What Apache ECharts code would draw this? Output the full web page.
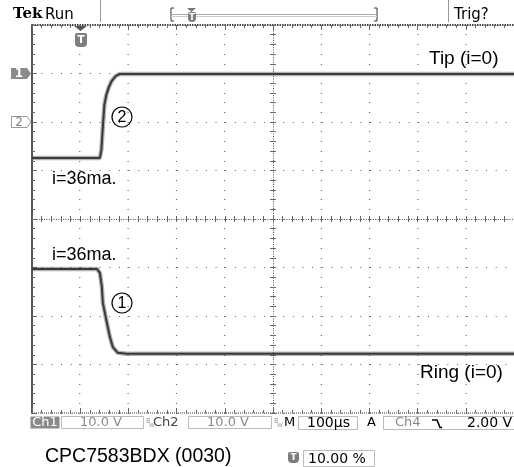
<!DOCTYPE html>
<html>
<head>
<meta charset="utf-8">
<script src="https://cdn.jsdelivr.net/npm/echarts@6/dist/echarts.min.js"></script>
<style>
  html, body { margin: 0; padding: 0; background: #fff; }
  #scope { width: 514px; height: 467px; }
</style>
</head>
<body>
<div id="scope"></div>
<script>
// Time in microseconds relative to the trigger point (100 µs/div, trigger at 10 %).
// Vertical values in screen divisions from the graticule centre.
const tipTime  = [-100, 40.8, 43.9, 47.0, 50.1, 54.2, 59.4, 65.6, 73.9, 82.2, 900];
const tipDiv   = [1.26, 1.26, 1.42, 1.90, 2.35, 2.56, 2.72, 2.85, 2.95, 2.99, 2.99];
const ringTime = [-100, 34.6, 40.8, 44.9, 47.0, 55.3, 61.5, 67.7, 78.0, 96.7, 900];
const ringDiv  = [-1.03, -1.03, -1.11, -1.40, -1.73, -2.14, -2.43, -2.64, -2.76, -2.78, -2.78];

// Horizontal span (µs) and the dotted vertical graticule rules inside it
const timeMin = -100, timeMax = 900;
const timeDivs = [0, 100, 200, 300, 500, 600, 700, 800];

// Readout texts
const traceLabels  = ['Tip (i=0)', 'Ring (i=0)'];
const currentLabel = 'i=36ma.';
const chScale      = ['10.0 V', '10.0 V'];
const timeBase     = '100µs';
const trigSource   = 'Ch4';
const trigLevel    = '2.00 V';
const trigPos      = '10.00 %';
const partLabel    = 'CPC7583BDX (0030)';

const pair = (xs, ys) => xs.map((x, i) => [x, ys[i]]);

const GRID = { left: 32, top: 25, width: 483, height: 388 };
const sans = '"Liberation Sans", Arial, sans-serif';
const dv = '"DejaVu Sans", sans-serif';

function txt(x, y, s, font, fill, align, vAlign) {
  return { type: 'text', x: x, y: y, silent: true, z: 100,
    style: { text: s, font: font, fill: fill || '#000',
             textAlign: align || 'left', textVerticalAlign: vAlign || 'middle' } };
}
function line(x1, y1, x2, y2, color, w) {
  return { type: 'line', silent: true, z: 100, shape: { x1, y1, x2, y2 },
           style: { stroke: color, lineWidth: w || 1 } };
}
function box(x, y, w, h, stroke, fill) {
  return { type: 'rect', silent: true, z: 99, shape: { x, y, width: w, height: h },
           style: { stroke: stroke || 'none', fill: fill || 'none', lineWidth: 1 } };
}
function tIcon(x, y, w, h) {
  return [
    { type: 'rect', silent: true, z: 100, shape: { x, y, width: w, height: h, r: [2, 2, 4, 4] },
      style: { fill: '#7d7d7d' } },
    txt(x + w / 2, y + h / 2 + 0.5, 'T', 'bold ' + Math.round(h * 0.8) + 'px ' + dv, '#fff', 'center')
  ];
}

const tickStyle = { color: '#676767', width: 1, cap: 'butt' };
const dotLine = (color, width, dash) => ({ color: color, width: width, type: dash, cap: 'butt' });
const noSplit = { splitLine: { show: false }, minorSplitLine: { show: false }, splitArea: { show: false } };

const borderAxis = (extra) => Object.assign({
  type: 'value', axisLabel: { show: false },
  axisTick: { show: true, inside: true, length: 5, lineStyle: tickStyle },
  minorTick: { show: true, splitNumber: 5, length: 3, lineStyle: tickStyle }
}, noSplit, extra);

const centreAxis = (extra, inside) => Object.assign({
  type: 'value', axisLabel: { show: false },
  axisTick: { show: true, inside: inside, length: 3, lineStyle: tickStyle },
  minorTick: { show: true, splitNumber: 5, length: 3, lineStyle: tickStyle }
}, noSplit, extra);

// Dotted vertical rules: a bare vertical axis shifted onto each division,
// whose 1px ticks every 0.2 div form the dots.
const dotRuleAxis = (t) => Object.assign({
  type: 'value', position: 'left', min: -4, max: 4, interval: 1,
  offset: -((t - timeMin) / (timeMax - timeMin)) * GRID.width,
  axisLine: { show: false, onZero: false }, axisLabel: { show: false },
  axisTick: { show: true, length: 1, lineStyle: { color: '#4a4a4a', width: 1 } },
  minorTick: { show: true, splitNumber: 5, length: 1, lineStyle: { color: '#4a4a4a', width: 1 } }
}, noSplit);

const graphics = [
  // top status bar
  txt(13, 14, 'Tek', 'bold 15px "DejaVu Serif", serif', '#000'),
  txt(45, 15, 'Run', '15px ' + dv, '#000'),
  line(100.5, 0, 100.5, 22, '#999', 1),
  line(448.5, 0, 448.5, 22, '#999', 1),
  txt(454, 15, 'Trig?', '15px ' + dv, '#000'),
  // record position bar
  { type: 'polyline', silent: true, z: 100, shape: { points: [[174, 8], [171, 8], [171, 21], [174, 21]] },
    style: { stroke: '#333', lineWidth: 1, fill: null } },
  { type: 'polyline', silent: true, z: 100, shape: { points: [[374, 8], [377, 8], [377, 21], [374, 21]] },
    style: { stroke: '#333', lineWidth: 1, fill: null } },
  line(171, 14.5, 377, 14.5, '#aaa', 1),
  line(171, 16.5, 377, 16.5, '#ccc', 1),
  { type: 'polygon', silent: true, z: 101, shape: { points: [[187, 8], [196, 8], [191.5, 12]] },
    style: { fill: '#777' } },
  ...tIcon(188, 12, 8, 10),
  // trigger position marker above the graticule
  { type: 'polygon', silent: true, z: 101, shape: { points: [[74, 26], [87, 26], [80.5, 31]] },
    style: { fill: '#555' } },
  ...tIcon(75, 33, 12, 14),
  // channel ground markers
  { type: 'polygon', silent: true, z: 100,
    shape: { points: [[11, 68], [27, 68], [31, 73.5], [27, 79], [11, 79]] }, style: { fill: '#8a8a8a' } },
  txt(19, 74, '1', 'bold 12px ' + dv, '#fff', 'center'),
  { type: 'polygon', silent: true, z: 100,
    shape: { points: [[11.5, 116.5], [27, 116.5], [31, 122], [27, 127.5], [11.5, 127.5]] },
    style: { fill: '#fff', stroke: '#999', lineWidth: 1 } },
  txt(19, 122.5, '2', '12px ' + dv, '#888', 'center'),
  // trace annotations
  txt(429, 59, traceLabels[0], '19px ' + sans, '#000'),
  txt(420, 373, traceLabels[1], '19px ' + sans, '#000'),
  txt(52, 179, currentLabel, '18px ' + sans, '#000'),
  txt(52, 255, currentLabel, '18px ' + sans, '#000'),
  { type: 'circle', silent: true, z: 100, shape: { cx: 122, cy: 117, r: 10 },
    style: { fill: 'none', stroke: '#000', lineWidth: 1.2 } },
  txt(122, 118, '2', '16px ' + sans, '#000', 'center'),
  { type: 'circle', silent: true, z: 100, shape: { cx: 122, cy: 303, r: 10 },
    style: { fill: 'none', stroke: '#000', lineWidth: 1.2 } },
  txt(122, 304, '1', '16px ' + sans, '#000', 'center'),
  // bottom readout bar
  box(30.5, 416.5, 29, 12, null, '#8a8a8a'),
  txt(45, 423, 'Ch1', '13px ' + dv, '#fff', 'center'),
  box(61.5, 416.5, 82, 12, '#bbb'),
  txt(80, 423, chScale[0], '13px ' + dv, '#8a8a8a'),
  txt(146, 421, 'B', '7px ' + dv, '#999'),
  txt(149, 425, 'W', '6px ' + dv, '#999'),
  txt(153, 423, 'Ch2', '13px ' + dv, '#444'),
  box(188.5, 416.5, 83, 12, '#bbb'),
  txt(207, 423, chScale[1], '13px ' + dv, '#8a8a8a'),
  txt(274, 421, 'B', '7px ' + dv, '#999'),
  txt(277, 425, 'W', '6px ' + dv, '#999'),
  txt(284, 423, 'M', '13px ' + dv, '#000'),
  box(298.5, 416.5, 59, 13, '#bbb'),
  txt(307, 423, timeBase, '14px ' + dv, '#000'),
  txt(367, 423, 'A', '13px ' + dv, '#000'),
  box(383.5, 416.5, 140, 13, '#bbb'),
  txt(395, 423, trigSource, '13px ' + dv, '#888'),
  { type: 'polyline', silent: true, z: 100,
    shape: { points: [[432, 420], [437, 420], [440, 427.5], [442, 427.5]] },
    style: { stroke: '#000', lineWidth: 1.6, fill: null } },
  txt(467, 423, trigLevel, '14px ' + dv, '#000'),
  // footer
  txt(45, 457, partLabel, '19.5px ' + sans, '#000'),
  ...tIcon(288, 452, 11, 11),
  box(303.5, 450.5, 71, 16, '#bbb'),
  txt(308, 459, trigPos, '14px ' + dv, '#000')
];

const chart = echarts.init(document.getElementById('scope'), null, { renderer: 'canvas' });
chart.setOption({
  animation: false,
  backgroundColor: '#fff',
  grid: Object.assign({ containLabel: false, show: false }, GRID),
  xAxis: [
    borderAxis({ position: 'bottom', min: timeMin, max: timeMax, interval: 100,
      axisLine: { show: true, onZero: false, lineStyle: dotLine('#787878', 1.5, [1, 1]) } }),
    borderAxis({ position: 'top', min: timeMin, max: timeMax, interval: 100,
      axisLine: { show: true, onZero: false, lineStyle: dotLine('#444444', 2, [1.5, 1]) } }),
    centreAxis({ position: 'bottom', min: -500, max: 500, interval: 100,
      axisLine: { show: true, onZero: true, onZeroAxisIndex: 0, lineStyle: dotLine('#4f4f4f', 1, [1, 1.4]) } }, false),
    centreAxis({ position: 'bottom', min: -500, max: 500, interval: 100,
      axisLine: { show: false, onZero: true, onZeroAxisIndex: 0 } }, true)
  ],
  yAxis: [
    borderAxis({ position: 'left', min: -4, max: 4, interval: 1,
      axisLine: { show: true, onZero: false, lineStyle: { color: '#555555', width: 2 } },
      splitLine: { show: true, lineStyle: dotLine('#5d5d5d', 1, [1, 8.66]) } }),
    centreAxis({ position: 'left', min: -4, max: 4, interval: 1,
      axisLine: { show: true, onZero: true, onZeroAxisIndex: 2, lineStyle: dotLine('#4e4e4e', 1, [1, 1.4]) } }, false),
    centreAxis({ position: 'left', min: -4, max: 4, interval: 1,
      axisLine: { show: false, onZero: true, onZeroAxisIndex: 2 } }, true),
    ...timeDivs.map(dotRuleAxis)
  ],
  series: [
    { type: 'line', xAxisIndex: 0, yAxisIndex: 0, data: pair(tipTime, tipDiv), showSymbol: false, silent: true,
      lineStyle: { color: 'rgba(85,85,85,0.45)', width: 4.5 }, z: 3 },
    { type: 'line', xAxisIndex: 0, yAxisIndex: 0, data: pair(tipTime, tipDiv), showSymbol: false, silent: true,
      lineStyle: { color: '#3a3a3a', width: 2 }, z: 4 },
    { type: 'line', xAxisIndex: 0, yAxisIndex: 0, data: pair(ringTime, ringDiv), showSymbol: false, silent: true,
      lineStyle: { color: 'rgba(85,85,85,0.45)', width: 4.5 }, z: 3 },
    { type: 'line', xAxisIndex: 0, yAxisIndex: 0, data: pair(ringTime, ringDiv), showSymbol: false, silent: true,
      lineStyle: { color: '#3a3a3a', width: 2 }, z: 4 }
  ],
  graphic: { elements: graphics }
});
</script>
</body>
</html>
